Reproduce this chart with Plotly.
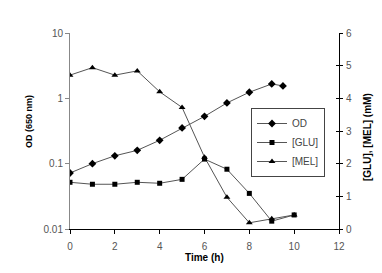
import plotly.graph_objects as go

# ---- data ----
time_od = [0, 1, 2, 3, 4, 5, 6, 7, 8, 9, 9.5]
od = [0.072, 0.10, 0.132, 0.16, 0.228, 0.352, 0.53, 0.85, 1.24, 1.66, 1.55]

time_conc = [0, 1, 2, 3, 4, 5, 6, 7, 8, 9, 10]
glu = [1.43, 1.37, 1.37, 1.43, 1.40, 1.52, 2.14, 1.83, 1.09, 0.24, 0.43]
mel = [4.71, 4.94, 4.71, 4.84, 4.20, 3.72, 2.2, 0.97, 0.19, 0.31, 0.43]

x_ticks = [0, 2, 4, 6, 8, 10, 12]
left_ticks = [0.01, 0.1, 1, 10]
left_tick_labels = ["0.01", "0.1", "1", "10"]
right_ticks = [0, 1, 2, 3, 4, 5, 6]

# page has an 8px body margin; compensate so plot area lands at page x 70-339, y 33-229
OFF = 8
W, H = 382 - OFF, 273 - OFF
L, T = 70 - OFF, 33 - OFF
R, B = 43, 44
pw, ph = W - L - R, H - T - B


def px_x(page_x):
    return (page_x - OFF - L) / pw


def px_y(page_y):
    return (H - B - (page_y - OFF)) / ph


FONT = "Liberation Sans, Arial, sans-serif"
LINE_C = "#555555"

fig = go.Figure()
fig.add_trace(go.Scatter(
    x=time_od, y=od, name="OD", mode="lines+markers", yaxis="y",
    line=dict(color=LINE_C, width=1),
    marker=dict(symbol="diamond", size=6, color="black"), legendrank=1))
fig.add_trace(go.Scatter(
    x=time_conc, y=mel, name="[MEL]", mode="lines+markers", yaxis="y2",
    line=dict(color=LINE_C, width=1),
    marker=dict(symbol="triangle-up", size=6, color="black"), legendrank=3))
fig.add_trace(go.Scatter(
    x=time_conc, y=glu, name="[GLU]", mode="lines+markers", yaxis="y2",
    line=dict(color=LINE_C, width=1),
    marker=dict(symbol="square", size=5, color="black"), legendrank=2))

tickfont = dict(family=FONT, size=10, color="#555555")

fig.update_layout(
    width=W, height=H,
    margin=dict(l=L, r=R, t=T, b=B, pad=0),
    paper_bgcolor="white", plot_bgcolor="white",
    font=dict(family=FONT, size=10, color="#333333"),
    showlegend=True,
    legend=dict(
        x=px_x(325), xanchor="right", y=px_y(108), yanchor="top",
        bgcolor="white", bordercolor="#444444", borderwidth=1,
        font=dict(family=FONT, size=10, color="#444444"),
        tracegroupgap=0, itemwidth=30,
    ),
    xaxis=dict(
        range=[0, 12], tickvals=x_ticks, ticktext=[str(v) for v in x_ticks],
        showgrid=False, zeroline=False, showline=True, linecolor="black", linewidth=1,
        ticks="outside", ticklen=4, tickcolor="black", tickfont=tickfont,
        ticklabelstandoff=4,
    ),
    yaxis=dict(
        type="log", range=[-2, 1], tickvals=left_ticks, ticktext=left_tick_labels,
        showgrid=False, zeroline=False, showline=True, linecolor="#888888", linewidth=1,
        ticks="outside", ticklen=4, tickcolor="#888888", tickfont=tickfont,
    ),
    yaxis2=dict(
        overlaying="y", side="right", range=[0, 6], tickvals=right_ticks,
        showgrid=False, zeroline=False, showline=True, linecolor="black", linewidth=1,
        ticks="outside", ticklen=3, tickcolor="black", tickfont=tickfont,
        ticklabelstandoff=1,
    ),
    yaxis3=dict(
        overlaying="y", side="right", range=[0, 6], tickvals=right_ticks,
        showgrid=False, zeroline=False, showline=False,
        ticks="inside", ticklen=3, tickcolor="black", showticklabels=False,
    ),
)

# empty trace to activate yaxis3 (cross ticks on the right axis)
fig.add_trace(go.Scatter(x=[None], y=[None], yaxis="y3", showlegend=False,
                         hoverinfo="skip"))

title_font = dict(family=FONT, size=10, color="black")
fig.add_annotation(text="<b>OD (650 nm)</b>", xref="paper", yref="paper",
                   x=px_x(29), y=px_y(122), textangle=-90,
                   showarrow=False, font=dict(family=FONT, size=9, color="black"),
                   xanchor="center", yanchor="middle")
fig.add_annotation(text="<b>[GLU], [MEL] (mM)</b>", xref="paper", yref="paper",
                   x=px_x(367), y=px_y(137), textangle=-90,
                   showarrow=False, font=title_font,
                   xanchor="center", yanchor="middle")
fig.add_annotation(text="<b>Time (h)</b>", xref="paper", yref="paper",
                   x=0.5, y=px_y(257),
                   showarrow=False, font=title_font,
                   xanchor="center", yanchor="middle")

fig.write_html("out.html")
